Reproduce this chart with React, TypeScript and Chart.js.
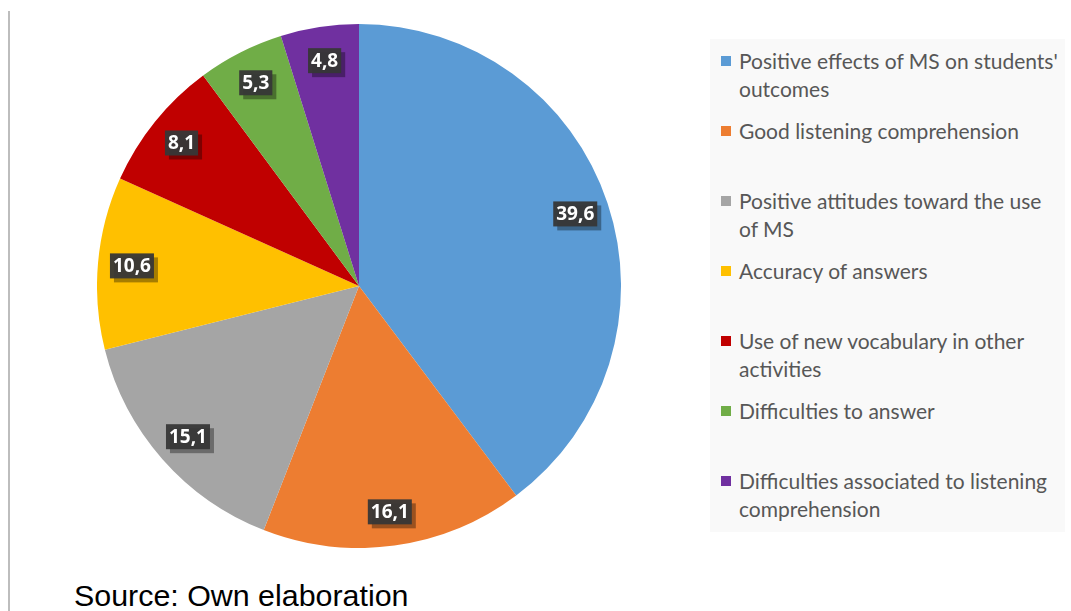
import React, { useEffect, useRef } from "react";
import { Chart, registerables } from "chart.js";

Chart.register(...registerables);

// Categories (each entry holds its wrapped legend lines)
const categories: string[][] = [
  ["Positive effects of MS on students'", "outcomes"],
  ["Good listening comprehension"],
  ["Positive attitudes toward the use", "of MS"],
  ["Accuracy of answers"],
  ["Use of new vocabulary in other", "activities"],
  ["Difficulties to answer"],
  ["Difficulties associated to listening", "comprehension"],
];

// Percentages per category
const values: number[] = [39.6, 16.1, 15.1, 10.6, 8.1, 5.3, 4.8];

// Slice colours
const colors: string[] = [
  "#5B9BD5",
  "#ED7D31",
  "#A5A5A5",
  "#FFC000",
  "#C00000",
  "#70AD47",
  "#7030A0",
];

const sourceNote = "Source: Own elaboration";

// Dark value tags placed inside each slice
const valueTags = {
  id: "valueTags",
  afterDatasetsDraw(chart: any) {
    const ctx = chart.ctx;
    const meta = chart.getDatasetMeta(0);
    const data = chart.data.datasets[0].data as number[];
    ctx.save();
    ctx.font = "bold 19px 'Open Sans', sans-serif";
    ctx.textAlign = "center";
    ctx.textBaseline = "middle";
    meta.data.forEach((arc: any, i: number) => {
      const p = arc.getProps(["x", "y", "startAngle", "endAngle", "outerRadius"], true);
      const mid = (p.startAngle + p.endAngle) / 2;
      const r = p.outerRadius * 0.87;
      const cx = p.x + Math.cos(mid) * r;
      const cy = p.y + Math.sin(mid) * r;
      const text = data[i].toFixed(1).replace(".", ",");
      const w = ctx.measureText(text).width + 6;
      const h = 25;
      // drop shadow
      ctx.fillStyle = "rgba(0,0,0,0.35)";
      ctx.fillRect(cx - w / 2 + 4, cy - h / 2 + 4, w, h);
      // tag
      ctx.fillStyle = "rgba(55,55,55,0.95)";
      ctx.fillRect(cx - w / 2, cy - h / 2, w, h);
      ctx.fillStyle = "#ffffff";
      ctx.fillText(text, cx, cy + 1);
    });
    ctx.restore();
  },
};

export default function App() {
  const canvasRef = useRef<HTMLCanvasElement | null>(null);

  useEffect(() => {
    if (!canvasRef.current) return;
    const chart = new Chart(canvasRef.current, {
      type: "pie",
      data: {
        labels: categories,
        datasets: [
          {
            data: values,
            backgroundColor: colors,
            borderWidth: 0,
          },
        ],
      },
      options: {
        animation: false,
        responsive: false,
        maintainAspectRatio: false,
        layout: { padding: 0 },
        plugins: {
          legend: { display: false },
          tooltip: { enabled: false },
        },
      },
      plugins: [valueTags],
    });
    return () => chart.destroy();
  }, []);

  return (
    <div
      style={{
        position: "fixed",
        left: 0,
        top: 0,
        width: 1071,
        height: 611,
        background: "#ffffff",
        overflow: "hidden",
      }}
    >
      <div
        style={{
          position: "absolute",
          left: 8,
          top: 11,
          width: 2,
          height: 600,
          background: "#bdbdbd",
        }}
      />
      <canvas
        ref={canvasRef}
        width={524}
        height={524}
        style={{ position: "absolute", left: 97, top: 24, width: 524, height: 524 }}
      />
      <div
        style={{
          position: "absolute",
          left: 710,
          top: 39,
          width: 355,
          height: 493,
          background: "#f9f9f9",
        }}
      >
        {categories.map((lines, i) => (
          <div
            key={i}
            style={{
              position: "absolute",
              left: 11,
              top: 8 + i * 70,
              display: "flex",
              alignItems: "flex-start",
            }}
          >
            <div
              style={{
                width: 10,
                height: 10,
                marginTop: 9,
                marginRight: 8,
                background: colors[i],
              }}
            />
            <div
              style={{
                fontFamily: "Lato, sans-serif",
                fontSize: 21,
                lineHeight: "28px",
                color: "#575757",
                whiteSpace: "nowrap",
              }}
            >
              {lines.map((l, j) => (
                <div key={j}>{l}</div>
              ))}
            </div>
          </div>
        ))}
      </div>
      <div
        style={{
          position: "absolute",
          left: 74,
          top: 576,
          fontFamily: "'Liberation Sans', Arial, sans-serif",
          fontSize: 30.4,
          lineHeight: "38px",
          color: "#000000",
          whiteSpace: "nowrap",
        }}
      >
        {sourceNote}
      </div>
    </div>
  );
}
